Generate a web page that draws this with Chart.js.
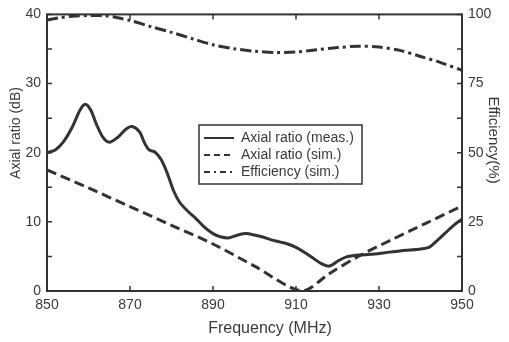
<!DOCTYPE html>
<html>
<head>
<meta charset="utf-8">
<script src="https://cdn.jsdelivr.net/npm/chart.js@4.4.1/dist/chart.umd.min.js"></script>
<style>
  html, body { margin: 0; padding: 0; background: #fff; }
  #wrap { width: 509px; height: 342px; }
</style>
</head>
<body>
<div id="wrap"><canvas id="chart" width="509" height="342"></canvas></div>
<script>
// ── Data ──────────────────────────────────────────────────────
const FREQ_TICKS = [850, 870, 890, 910, 930, 950];
const AR_TICKS   = [0, 10, 20, 30, 40];
const AR_MARKS   = [0, 5, 10, 15, 20, 25, 30, 35, 40];
const EFF_TICKS  = [0, 25, 50, 75, 100];
const EFF_MARKS  = [0, 12.5, 25, 37.5, 50, 62.5, 75, 87.5, 100];

const LEGEND_LABELS = ['Axial ratio (meas.)', 'Axial ratio (sim.)', 'Efficiency (sim.)'];

// axial ratio, measured (dB)
const arMeasFreq = [850, 852, 854, 856, 858, 859.2, 860.5, 862, 863.5, 865, 867, 869, 870.5, 872.3, 873.6, 874.6, 876,
                    877.5, 879, 880.5, 882, 884, 886, 888, 890, 892, 894, 896, 898, 900, 902, 904, 906, 908, 910,
                    912, 914, 916, 918, 920, 922, 925, 928, 931, 935, 939, 942, 944, 946, 948, 950];
const arMeasVal  = [20.0, 20.4, 21.6, 23.6, 26.2, 27.0, 26.2, 24.0, 22.2, 21.5, 22.2, 23.4, 23.8, 23.0, 21.3, 20.4, 20.1,
                    19.0, 17.0, 14.5, 12.8, 11.5, 10.4, 9.2, 8.3, 7.8, 7.7, 8.1, 8.3, 8.1, 7.8, 7.4, 7.1, 6.8, 6.3,
                    5.6, 4.8, 4.0, 3.6, 4.3, 4.9, 5.2, 5.3, 5.5, 5.8, 6.0, 6.3, 7.3, 8.4, 9.5, 10.4];

// axial ratio, simulated (dB)
const arSimFreq = [850, 860, 870, 880, 890, 900, 911.5, 918, 925, 933, 941, 950];
const arSimVal  = [17.5, 14.9, 12.2, 9.5, 6.8, 3.6, 0, 2.5, 5.0, 7.4, 9.7, 12.3];

// efficiency, simulated (%)
const effFreq = [850, 853, 856, 860, 864, 867, 870, 875, 880, 885, 890, 895, 900, 905, 910, 915, 920, 925, 930, 935, 940, 945, 950];
const effVal  = [98.0, 98.8, 99.3, 99.6, 99.5, 98.8, 97.8, 95.6, 93.5, 91.2, 89.0, 87.6, 86.7, 86.2, 86.4, 87.2, 88.0, 88.5, 88.2, 87.0, 84.8, 82.5, 79.8];

// ── Style ─────────────────────────────────────────────────────
const INK   = '#333333';
const TEXT  = '#3a3a3a';
const FONT  = "'Liberation Sans', Arial, sans-serif";

function pts(xs, ys) {
  return xs.map(function (x, i) { return { x: x, y: ys[i] }; });
}

function fixedTicks(values) {
  return function (scale) {
    scale.ticks = values.map(function (v) { return { value: v }; });
  };
}

// ── Frame, inward ticks, titles, legend ───────────────────────
const decorations = {
  id: 'decorations',
  afterDraw: function (chart) {
    const c = chart.ctx;
    const a = chart.chartArea;
    const sx = chart.scales.x, sy = chart.scales.y, sy1 = chart.scales.y1;
    const TL = 5;

    c.save();
    c.strokeStyle = INK;
    c.lineWidth = 2;
    c.strokeRect(a.left, a.top, a.right - a.left, a.bottom - a.top);

    c.lineWidth = 1.5;
    c.beginPath();
    FREQ_TICKS.forEach(function (v) {
      const px = sx.getPixelForValue(v);
      c.moveTo(px, a.bottom); c.lineTo(px, a.bottom - TL);
      c.moveTo(px, a.top);    c.lineTo(px, a.top + TL);
    });
    AR_MARKS.forEach(function (v) {
      const py = sy.getPixelForValue(v);
      c.moveTo(a.left, py); c.lineTo(a.left + TL, py);
    });
    EFF_MARKS.forEach(function (v) {
      const py = sy1.getPixelForValue(v);
      c.moveTo(a.right, py); c.lineTo(a.right - TL, py);
    });
    c.stroke();

    // axis titles
    c.fillStyle = TEXT;
    c.textAlign = 'center';
    c.textBaseline = 'middle';
    c.font = '16px ' + FONT;
    c.fillText('Frequency (MHz)', 270, 329);

    c.save();
    c.translate(16, 133);
    c.rotate(-Math.PI / 2);
    c.font = '14px ' + FONT;
    c.fillText('Axial ratio (dB)', 0, 0);
    c.restore();

    c.save();
    c.translate(493, 140);
    c.rotate(Math.PI / 2);
    c.font = '15px ' + FONT;
    c.fillText('Efficiency(%)', 0, 0);
    c.restore();

    // legend box
    const bx = 199, by = 125, bw = 163, bh = 59;
    c.fillStyle = '#fff';
    c.fillRect(bx, by, bw, bh);
    c.lineWidth = 1.5;
    c.strokeStyle = INK;
    c.strokeRect(bx, by, bw, bh);

    c.font = '14px ' + FONT;
    c.textAlign = 'left';
    c.fillStyle = TEXT;
    chart.data.datasets.forEach(function (ds, i) {
      const ly = by + 13 + i * 17;
      c.beginPath();
      c.setLineDash(i === 0 ? [] : (i === 1 ? [6, 4] : [6, 4, 2, 4]));
      c.lineWidth = 2;
      c.moveTo(bx + 5, ly); c.lineTo(bx + 35, ly);
      c.stroke();
      c.setLineDash([]);
      c.fillText(LEGEND_LABELS[i], bx + 42, ly);
    });
    c.restore();
  }
};

const tickFont = { family: FONT, size: 14 };

new Chart(document.getElementById('chart'), {
  type: 'line',
  data: {
    datasets: [
      {
        label: LEGEND_LABELS[0],
        data: pts(arMeasFreq, arMeasVal),
        yAxisID: 'y',
        borderColor: INK,
        borderWidth: 3,
        pointRadius: 0,
        tension: 0.3,
        fill: false,
      },
      {
        label: LEGEND_LABELS[1],
        data: pts(arSimFreq, arSimVal),
        yAxisID: 'y',
        borderColor: INK,
        borderWidth: 3,
        borderDash: [10, 5],
        pointRadius: 0,
        tension: 0.3,
        fill: false,
      },
      {
        label: LEGEND_LABELS[2],
        data: pts(effFreq, effVal),
        yAxisID: 'y1',
        borderColor: INK,
        borderWidth: 3,
        borderDash: [11, 4, 3, 4],
        pointRadius: 0,
        tension: 0.3,
        fill: false,
      },
    ]
  },
  options: {
    responsive: false,
    animation: false,
    devicePixelRatio: 1,
    layout: { padding: { top: 14, left: 0, right: 0, bottom: 0 } },
    plugins: {
      legend: { display: false },
      tooltip: { enabled: false },
    },
    scales: {
      x: {
        type: 'linear',
        min: 850, max: 950,
        afterBuildTicks: fixedTicks(FREQ_TICKS),
        grid: { display: false, drawTicks: false },
        border: { display: false },
        ticks: { font: tickFont, color: TEXT, padding: 6, maxRotation: 0 },
        afterFit: function (s) { s.height = 51; },
      },
      y: {
        position: 'left',
        min: 0, max: 40,
        afterBuildTicks: fixedTicks(AR_TICKS),
        grid: { display: false, drawTicks: false },
        border: { display: false },
        ticks: { font: tickFont, color: TEXT, padding: 6 },
        afterFit: function (s) { s.width = 47; },
      },
      y1: {
        position: 'right',
        min: 0, max: 100,
        afterBuildTicks: fixedTicks(EFF_TICKS),
        grid: { display: false, drawTicks: false },
        border: { display: false },
        ticks: { font: tickFont, color: TEXT, padding: 6 },
        afterFit: function (s) { s.width = 47; },
      },
    }
  },
  plugins: [decorations]
});
</script>
</body>
</html>
